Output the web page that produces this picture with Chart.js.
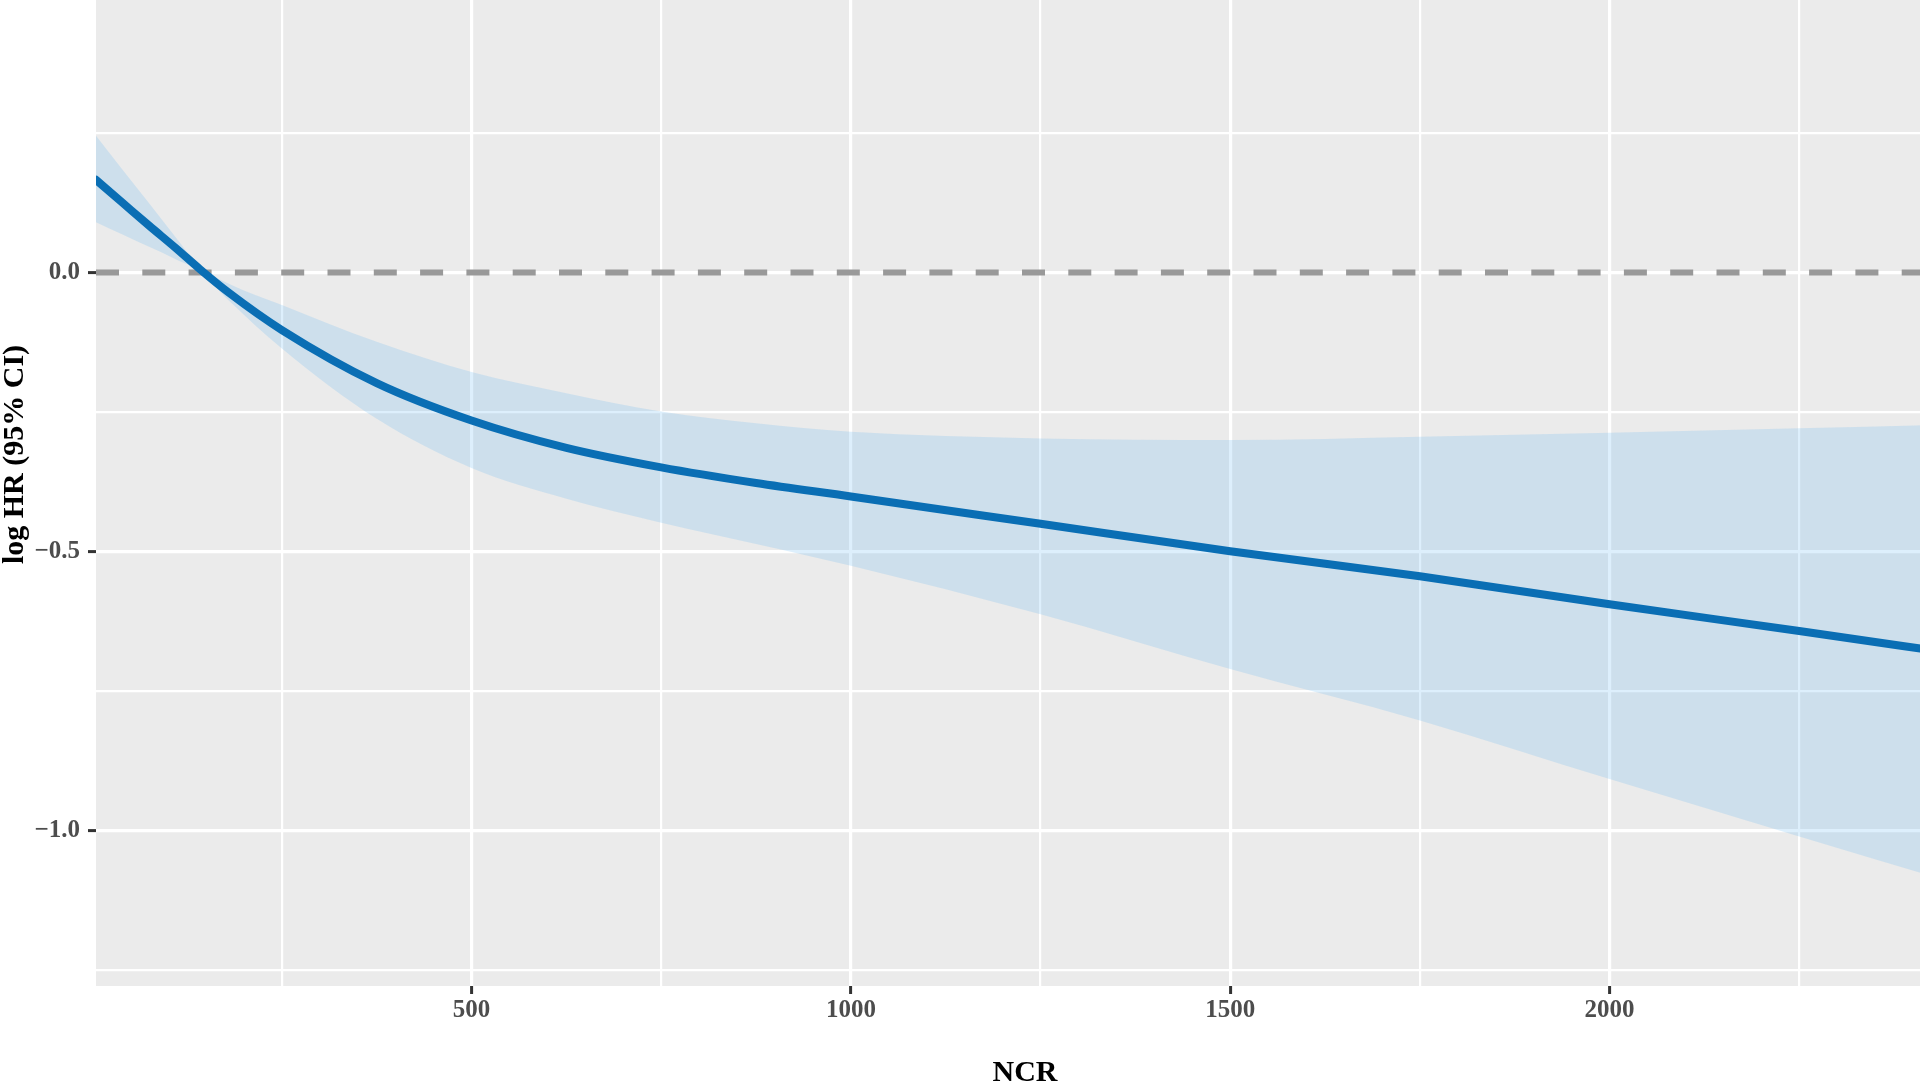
<!DOCTYPE html>
<html>
<head>
<meta charset="utf-8">
<script src="https://cdn.jsdelivr.net/npm/chart.js@4.4.1/dist/chart.umd.min.js"></script>
<style>
  html, body { margin:0; padding:0; background:#ffffff; overflow:hidden; width:1920px; height:1084px; }
  #wrap { position:absolute; left:0; top:-100px; width:1954px; height:1200px; }
</style>
</head>
<body>
<div id="wrap"><canvas id="c"></canvas></div>
<script>
// ---- data ----
const ncr     = [5, 40, 75, 110, 142, 180, 250, 375, 500, 625, 750, 875, 1000, 1250, 1500, 1750, 2000, 2250, 2454];
const logHR   = [0.166, 0.125, 0.084, 0.044, 0.006, -0.036, -0.103, -0.198, -0.265, -0.314, -0.349, -0.377, -0.401, -0.450, -0.499, -0.544, -0.594, -0.642, -0.682];
const upperCI = [0.245, 0.184, 0.124, 0.063, 0.010, -0.020, -0.058, -0.124, -0.178, -0.216, -0.249, -0.270, -0.285, -0.297, -0.300, -0.294, -0.287, -0.279, -0.272];
const lowerCI = [0.090, 0.068, 0.046, 0.024, 0.002, -0.050, -0.136, -0.262, -0.350, -0.405, -0.448, -0.486, -0.525, -0.612, -0.710, -0.802, -0.907, -1.010, -1.093];
const refX = [5, 2454];
const refY = [0, 0];
const xGrid = [250, 500, 750, 1000, 1250, 1500, 1750, 2000, 2250];
const xMajor = [500, 1000, 1500, 2000];
const xLabels = ['500', '1000', '1500', '2000'];
const yGrid = [-1.25, -1.0, -0.75, -0.5, -0.25, 0, 0.25, 0.5];
const yMajor = [-1.0, -0.5, 0, 0.5];
const yLabels = ['\u22121.0', '\u22120.5', '0.0', '0.5'];

const pts = (xs, ys) => xs.map((x, i) => ({x: x, y: ys[i]}));
const near = (a, b) => Math.abs(a - b) < 1e-6;
const majorIdx = (arr, v) => arr.findIndex(m => near(m, v));

const FONT = 'Liberation Serif';

const panelBg = {
  id: 'panelBg',
  beforeDraw(chart) {
    const {ctx, chartArea: a} = chart;
    ctx.save();
    ctx.fillStyle = '#EBEBEB';
    ctx.fillRect(a.left, a.top, a.right - a.left, a.bottom - a.top);
    ctx.restore();
  }
};

new Chart(document.getElementById('c'), {
  type: 'line',
  data: {
    datasets: [
      { label: 'logHR', data: pts(ncr, logHR), borderColor: '#0A6EB4', borderWidth: 8,
        borderCapStyle: 'round', pointRadius: 0, fill: false, cubicInterpolationMode: 'monotone', order: 0 },
      { label: 'ref', data: pts(refX, refY), borderColor: '#999999', borderWidth: 6,
        borderDash: [23, 23.3], borderCapStyle: 'butt', pointRadius: 0, fill: false, order: 1 },
      { label: 'upper', data: pts(ncr, upperCI), borderWidth: 0, borderColor: 'rgba(0,0,0,0)',
        backgroundColor: 'rgba(100,180,240,0.22)', pointRadius: 0, fill: '+1', cubicInterpolationMode: 'monotone', order: 2 },
      { label: 'lower', data: pts(ncr, lowerCI), borderWidth: 0, borderColor: 'rgba(0,0,0,0)',
        pointRadius: 0, fill: false, cubicInterpolationMode: 'monotone', order: 3 }
    ]
  },
  options: {
    responsive: true,
    maintainAspectRatio: false,
    animation: false,
    devicePixelRatio: 1,
    layout: { padding: { top: 20, left: 0, right: 0, bottom: 0 } },
    plugins: { legend: { display: false }, tooltip: { enabled: false } },
    scales: {
      x: {
        type: 'linear', min: 5, max: 2454,
        afterBuildTicks: s => { s.ticks = xGrid.map(v => ({value: v})); },
        afterFit: s => { s.height = 114; },
        border: { display: false },
        grid: {
          color: '#FFFFFF',
          lineWidth: c => majorIdx(xMajor, c.tick.value) >= 0 ? 3.2 : 2.2,
          tickLength: 8, tickWidth: 3,
          tickColor: c => majorIdx(xMajor, c.tick.value) >= 0 ? '#333333' : 'rgba(0,0,0,0)'
        },
        ticks: {
          autoSkip: false, maxRotation: 0, padding: 2, color: '#4D4D4D',
          font: { family: FONT, weight: 'bold', size: 25 },
          callback: v => { const i = majorIdx(xMajor, v); return i >= 0 ? xLabels[i] : ''; }
        },
        title: { display: true, text: 'NCR', color: '#000000',
          font: { family: FONT, weight: 'bold', size: 30 }, padding: { top: 0, bottom: 9 } }
      },
      y: {
        type: 'linear', min: -1.2777, max: 0.626,
        afterBuildTicks: s => { s.ticks = yGrid.map(v => ({value: v})); },
        afterFit: s => { s.width = 96; },
        border: { display: false },
        grid: {
          color: '#FFFFFF',
          lineWidth: c => majorIdx(yMajor, c.tick.value) >= 0 ? 3.2 : 2.2,
          tickLength: 8, tickWidth: 3,
          tickColor: c => majorIdx(yMajor, c.tick.value) >= 0 ? '#333333' : 'rgba(0,0,0,0)'
        },
        ticks: {
          autoSkip: false, padding: 8, color: '#4D4D4D',
          font: { family: FONT, weight: 'bold', size: 25 },
          callback: v => { const i = majorIdx(yMajor, v); return i >= 0 ? yLabels[i] : ''; }
        },
        title: { display: true, text: 'log HR (95% CI)', color: '#000000',
          font: { family: FONT, weight: 'bold', size: 30, lineHeight: 1 }, padding: { top: 0, bottom: 0 } }
      }
    }
  },
  plugins: [panelBg]
});
</script>
</body>
</html>
